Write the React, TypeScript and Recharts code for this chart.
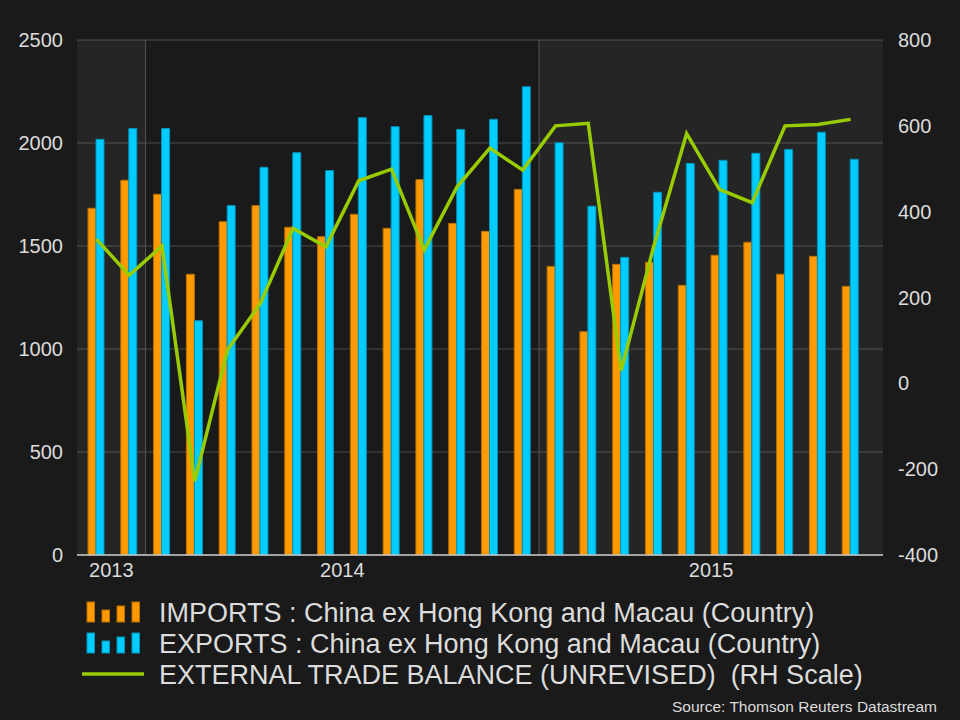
import React from 'react';
import {
  ComposedChart,
  Bar,
  Line,
  XAxis,
  YAxis,
  CartesianGrid,
  ReferenceArea,
  ReferenceLine,
} from 'recharts';

// ---------- data ----------
const months = [
  'Nov 2013', 'Dec 2013',
  'Jan 2014', 'Feb 2014', 'Mar 2014', 'Apr 2014', 'May 2014', 'Jun 2014',
  'Jul 2014', 'Aug 2014', 'Sep 2014', 'Oct 2014', 'Nov 2014', 'Dec 2014',
  'Jan 2015', 'Feb 2015', 'Mar 2015', 'Apr 2015', 'May 2015', 'Jun 2015',
  'Jul 2015', 'Aug 2015', 'Sep 2015', 'Oct 2015',
];

const importsValues = [
  1683, 1819, 1751, 1363, 1618, 1696, 1591, 1545, 1654, 1586, 1822, 1610,
  1571, 1775, 1401, 1084, 1411, 1421, 1309, 1455, 1518, 1363, 1450, 1304,
];

const exportsValues = [
  2018, 2070, 2070, 1137, 1696, 1882, 1953, 1866, 2123, 2079, 2133, 2066,
  2115, 2273, 2001, 1693, 1445, 1761, 1901, 1916, 1950, 1969, 2052, 1921,
];

const balanceValues = [
  336, 252, 320, -228, 78, 186, 361, 318, 472, 499, 311, 458,
  548, 497, 600, 606, 29, 320, 582, 452, 421, 600, 603, 615,
];

const leftTicks = [0, 500, 1000, 1500, 2000, 2500];
const rightTicks = [-400, -200, 0, 200, 400, 600, 800];

const seriesNames = [
  'IMPORTS : China ex Hong Kong and Macau (Country)',
  'EXPORTS : China ex Hong Kong and Macau (Country)',
  'EXTERNAL TRADE BALANCE (UNREVISED)  (RH Scale)',
];
const sourceText = 'Source: Thomson Reuters Datastream';

// ---------- styles / layout ----------
const W = 960;
const H = 720;
const PLOT_L = 77;
const PLOT_R = 883;
const PLOT_T = 40;
const PLOT_B = 555;
const XAXIS_H = 30;
const PAD_L = 3;
const PAD_R = 16;
const FONT = '"Liberation Sans", Arial, Helvetica, sans-serif';
const TEXT = '#dcdcdc';
const BG = '#1a1a1a';
const ORANGE = '#ff9900';
const ORANGE_EDGE = '#b86e00';
const CYAN = '#00ccff';
const CYAN_EDGE = '#0093bb';
const GREEN = '#99cc00';

const band = (PLOT_R - PLOT_L - PAD_L - PAD_R) / months.length;
const tDomain: [number, number] = [-PAD_L / band, months.length + PAD_R / band];

const data = months.map((m, i) => ({
  month: m,
  t: i + 0.5,
  imports: importsValues[i],
  exports: exportsValues[i],
  balance: balanceValues[i],
}));

const yearList = Array.from(new Set(months.map((m) => m.slice(-4))));
const yearSpans = yearList.map((y, yi) => {
  const s = months.findIndex((m) => m.endsWith(y));
  let e = s;
  while (e < months.length && months[e].endsWith(y)) e++;
  const start = s === 0 ? tDomain[0] : s;
  const end = e === months.length ? tDomain[1] : e;
  return { year: y, start, end, mid: (start + end) / 2, shaded: yi % 2 === 0 };
});
const yearTicks = yearSpans.map((s) => s.mid);
const yearFormatter = (v: number) => {
  const found = yearSpans.find((s) => Math.abs(s.mid - v) < 1e-6);
  return found ? found.year : '';
};

const LegendOverlay = () => {
  const iconBarH = [20, 12, 16, 20];
  const iconBarX = [87, 102, 117, 132];
  const rows = [
    { kind: 'bar', color: ORANGE, edge: ORANGE_EDGE, base: 622, name: seriesNames[0] },
    { kind: 'bar', color: CYAN, edge: CYAN_EDGE, base: 653, name: seriesNames[1] },
    { kind: 'line', color: GREEN, edge: GREEN, base: 684, name: seriesNames[2] },
  ];
  return (
    <svg
      width={W}
      height={H}
      style={{ position: 'absolute', left: 0, top: 0, pointerEvents: 'none' }}
    >
      {rows.map((r, ri) => (
        <g key={ri}>
          {r.kind === 'bar' ? (
            iconBarH.map((h, bi) => (
              <rect
                key={bi}
                x={iconBarX[bi]}
                y={r.base - h}
                width={7.5}
                height={h}
                fill={r.color}
                stroke={r.edge}
                strokeWidth={1}
              />
            ))
          ) : (
            <line x1={82} x2={144} y1={r.base - 10} y2={r.base - 10} stroke={r.color} strokeWidth={3.5} />
          )}
          <text
            x={159}
            y={r.base}
            fill={TEXT}
            fontSize={27}
            fontFamily={FONT}
            style={{ whiteSpace: 'pre' }}
            xmlSpace="preserve"
          >
            {r.name}
          </text>
        </g>
      ))}
      <text x={937} y={712} textAnchor="end" fill={TEXT} fontSize={15.5} fontFamily={FONT}>
        {sourceText}
      </text>
    </svg>
  );
};

export default function App() {
  return (
    <div
      style={{
        position: 'absolute',
        left: 0,
        top: 0,
        width: W,
        height: H,
        background: BG,
        fontFamily: FONT,
        overflow: 'hidden',
      }}
    >
      <ComposedChart
        width={W}
        height={H}
        data={data}
        margin={{ top: PLOT_T, right: 0, left: 0, bottom: H - PLOT_B - XAXIS_H }}
        barGap={0}
      >
        <XAxis xAxisId="c" dataKey="month" hide height={0} padding={{ left: PAD_L, right: PAD_R }} />
        <XAxis
          xAxisId="t"
          type="number"
          dataKey="t"
          domain={tDomain}
          allowDataOverflow
          ticks={yearTicks}
          tickFormatter={yearFormatter}
          height={XAXIS_H}
          axisLine={{ stroke: '#c8c8c8', strokeWidth: 1.5 }}
          tickLine={false}
          tickSize={0}
          tickMargin={8}
          tick={{ fill: TEXT, fontSize: 20, fontFamily: FONT }}
          interval={0}
        />
        <YAxis
          yAxisId="left"
          domain={[0, 2500]}
          ticks={leftTicks}
          width={PLOT_L}
          axisLine={false}
          tickLine={false}
          tickSize={0}
          tickMargin={14}
          tick={{ fill: TEXT, fontSize: 20, fontFamily: FONT }}
          interval={0}
        />
        <YAxis
          yAxisId="right"
          orientation="right"
          domain={[-400, 800]}
          ticks={rightTicks}
          width={W - PLOT_R}
          axisLine={false}
          tickLine={false}
          tickSize={0}
          tickMargin={15}
          tick={{ fill: TEXT, fontSize: 20, fontFamily: FONT, textAnchor: 'start' }}
          interval={0}
        />
        {yearSpans
          .filter((s) => s.shaded)
          .map((s) => (
            <ReferenceArea
              key={s.year}
              xAxisId="t"
              yAxisId="left"
              x1={s.start}
              x2={s.end}
              y1={0}
              y2={2500}
              fill="#ffffff"
              fillOpacity={0.05}
              stroke="none"
              ifOverflow="visible"
            />
          ))}
        <CartesianGrid
          xAxisId="c"
          yAxisId="left"
          vertical={false}
          stroke="#4a4a4a"
          strokeWidth={1}
        />
        {yearSpans.slice(1).map((s) => (
          <ReferenceLine
            key={'l' + s.year}
            xAxisId="t"
            yAxisId="left"
            x={s.start}
            stroke="#555555"
            strokeWidth={1}
          />
        ))}
        <Bar
          xAxisId="c"
          yAxisId="left"
          dataKey="imports"
          barSize={8}
          fill={ORANGE}
          stroke={ORANGE_EDGE}
          strokeWidth={1}
          isAnimationActive={false}
        />
        <Bar
          xAxisId="c"
          yAxisId="left"
          dataKey="exports"
          barSize={8}
          fill={CYAN}
          stroke={CYAN_EDGE}
          strokeWidth={1}
          isAnimationActive={false}
        />
        <Line
          xAxisId="c"
          yAxisId="right"
          type="linear"
          dataKey="balance"
          stroke={GREEN}
          strokeWidth={3.5}
          dot={false}
          activeDot={false}
          isAnimationActive={false}
        />
      </ComposedChart>
      <LegendOverlay />
    </div>
  );
}
